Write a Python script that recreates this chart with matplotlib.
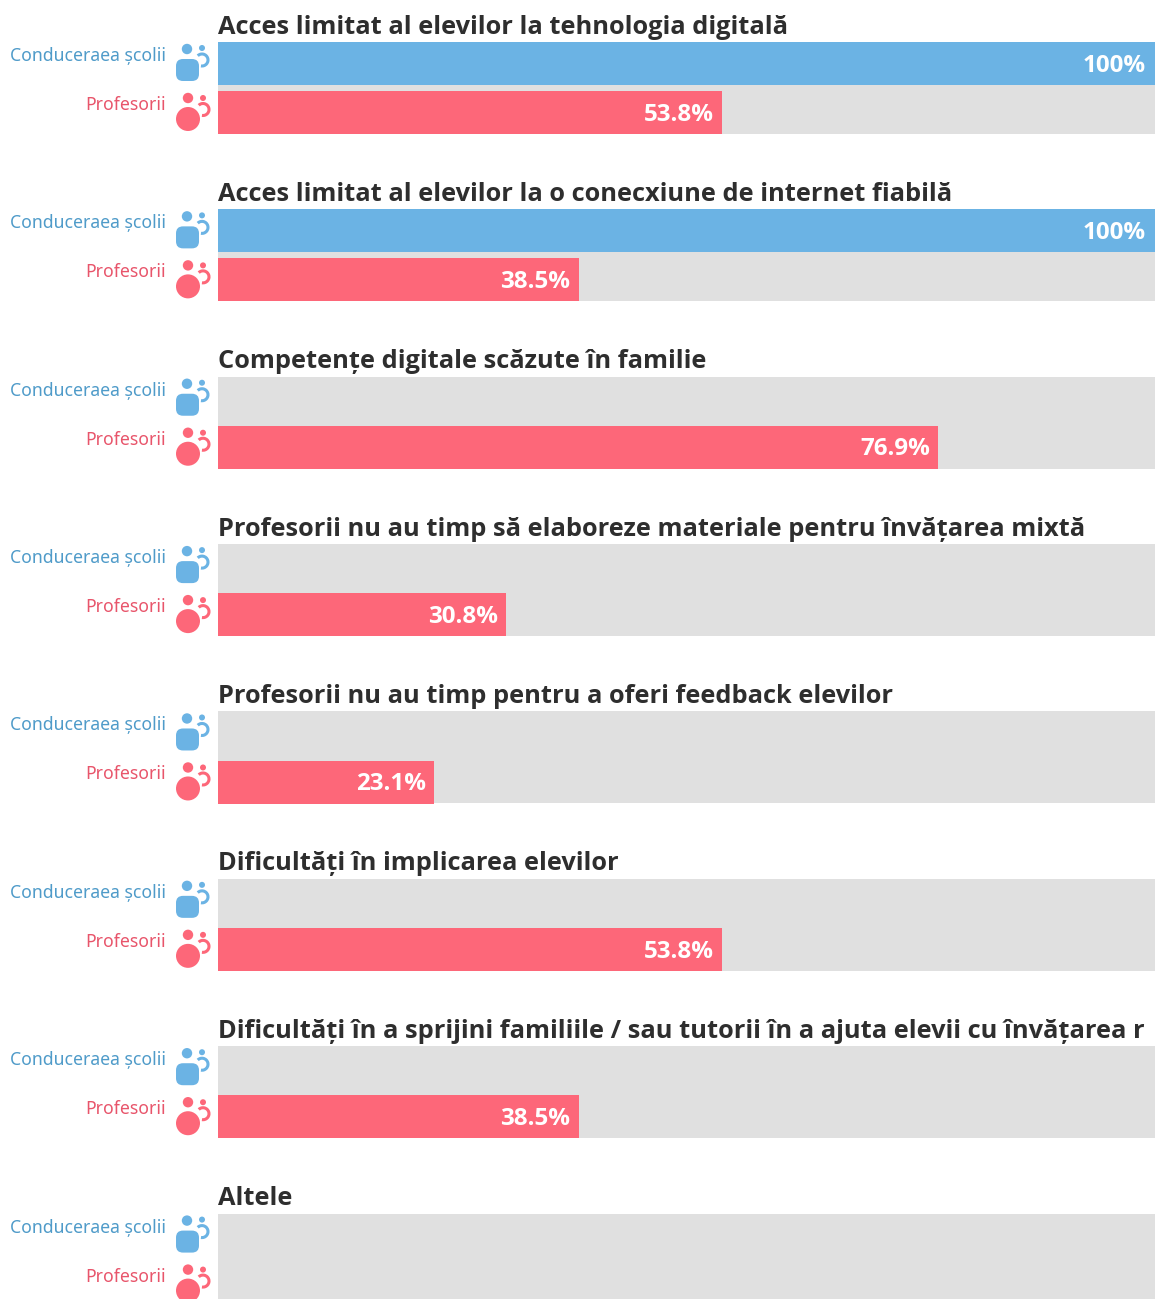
import matplotlib
matplotlib.use('Agg')
import matplotlib.pyplot as plt
from matplotlib.patches import Arc, Circle, FancyBboxPatch

titles = [
    'Acces limitat al elevilor la tehnologia digitală',
    'Acces limitat al elevilor la o conecxiune de internet fiabilă',
    'Competențe digitale scăzute în familie',
    'Profesorii nu au timp să elaboreze materiale pentru învățarea mixtă',
    'Profesorii nu au timp pentru a oferi feedback elevilor',
    'Dificultăți în implicarea elevilor',
    'Dificultăți în a sprijini familiile / sau tutorii în a ajuta elevii cu învățarea r',
    'Altele',
]
leaders = [100, 100, 0, 0, 0, 0, 0, 0]
teachers = [53.8, 38.5, 76.9, 30.8, 23.1, 53.8, 38.5, 0]
leader_label = 'Conduceraea școlii'
teacher_label = 'Profesorii'

BLUE = '#6bb3e4'
RED = '#fd6779'
GREY = '#e0e0e0'
W, H = 1155, 1299
LEFT, RIGHT = 218, 1154.5
STEP = 167.37
FONT = 'Noto Sans'
BOLD = 'Open Sans'

fig = plt.figure(figsize=(W / 100, H / 100), dpi=100)

# bars: x in percent, y in pixels from the top
ax = fig.add_axes([LEFT / W, 0, (RIGHT - LEFT) / W, 1])
ax.set_xlim(0, 100)
ax.set_ylim(H, 0)
ax.axis('off')

# overlay in pixel coords for icons and labels
ov = fig.add_axes([0, 0, 1, 1])
ov.set_xlim(0, W)
ov.set_ylim(H, 0)
ov.axis('off')
ov.patch.set_alpha(0)


def leader_icon(top):
    ov.add_patch(Circle((187, top + 7), 5.2, color=BLUE, lw=0))
    ov.add_patch(Circle((202, top + 6), 3, color=BLUE, lw=0))
    ov.add_patch(FancyBboxPatch((180, top + 21), 15, 14, boxstyle='round,pad=4,rounding_size=7', color=BLUE, lw=0))
    ov.add_patch(Arc((202, top + 18), 12, 12, theta1=225, theta2=100, color=BLUE, lw=2.2))


def teacher_icon(top):
    ov.add_patch(Circle((188, top + 7), 5.2, color=RED, lw=0))
    ov.add_patch(Circle((203, top + 7), 3, color=RED, lw=0))
    ov.add_patch(Circle((188, top + 28), 12, color=RED, lw=0))
    ov.add_patch(Arc((203, top + 18.5), 12, 12, theta1=225, theta2=100, color=RED, lw=2.2))


for i, title in enumerate(titles):
    top = 42 + i * STEP
    y1, y2 = top + 21.5, top + 70.6
    ax.barh((top + 46), 100, height=92, color=GREY, lw=0, zorder=1)
    ax.barh(y1, leaders[i], height=43, color=BLUE, lw=0, zorder=2)
    ax.barh(y2, teachers[i], height=43, color=RED, lw=0, zorder=2)
    ov.text(LEFT, top - 15, title, fontsize=18.3, fontweight='bold', color='#2e2e2e', family=BOLD, va='center', ha='left')
    ov.text(165.5, top + 14, leader_label, fontsize=12.7, color='#4f9bc9', family=FONT, va='center', ha='right')
    ov.text(165.5, top + 63, teacher_label, fontsize=12.7, color='#e8556b', family=FONT, va='center', ha='right')
    leader_icon(top)
    teacher_icon(top + 49)
    for y, v in zip((y1, y2), (leaders[i], teachers[i])):
        if v > 0:
            lab = f'{v:g}%'
            ax.annotate(lab, (v, y), xytext=(-6, -1.5), textcoords='offset points', color='white', fontsize=17.4,
                        fontweight='bold', family=BOLD, va='center', ha='right', zorder=3)

fig.savefig('out.png', dpi=100)
